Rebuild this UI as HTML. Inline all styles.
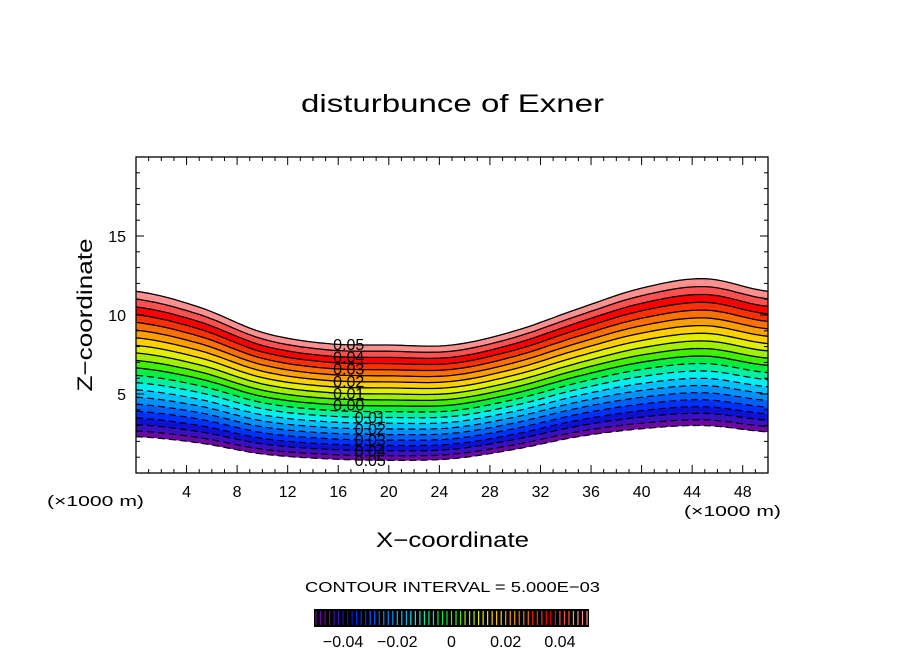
<!DOCTYPE html>
<html><head><meta charset="utf-8"><style>
body{margin:0;background:#fff}
svg{display:block;font-family:"Liberation Sans",sans-serif}
</style></head><body>
<svg id="c" width="904" height="654" viewBox="0 0 904 654">
<text x="301" y="112" font-size="25" textLength="303" lengthAdjust="spacingAndGlyphs">disturbunce of Exner</text>
<g id="plot"></g>
<g id="axes"></g>
<text x="47" y="506" font-size="15" textLength="97" lengthAdjust="spacingAndGlyphs">(×1000 m)</text>
<text x="684" y="516" font-size="15" textLength="97" lengthAdjust="spacingAndGlyphs">(×1000 m)</text>
<text x="376" y="547" font-size="21" textLength="153" lengthAdjust="spacingAndGlyphs">X−coordinate</text>
<text x="92" y="315" font-size="21" text-anchor="middle" textLength="153" lengthAdjust="spacingAndGlyphs" transform="rotate(-90 92 315)">Z−coordinate</text>
<text x="305" y="592" font-size="15" textLength="295" lengthAdjust="spacingAndGlyphs">CONTOUR INTERVAL = 5.000E−03</text>
<g id="cbar"></g>
</svg>
<script>
const xKnots=[0,5,10,15,20,25,30,35,40,45,50];
const topH=[11.5,10.5,8.9,8.2,8.1,8.1,9.0,10.4,11.7,12.3,11.5];
const botH=[2.3,1.9,1.2,0.9,0.8,0.9,1.5,2.3,2.8,3.0,2.6];
const levels=[];for(let i=0;i<=20;i++)levels.push(+(-0.05+i*0.005).toFixed(3));
const bandColors=["#6a0aa0","#3a10c0","#1010d0","#0030ff","#0060ff","#0090ff","#00c0ff","#00f0f0","#00f0a0","#00f040","#40f000","#a0f000","#e0f000","#ffd000","#ffa000","#ff7000","#ff3000","#ff0000","#ff5050","#ff9090"];
const xTicks=[4,8,12,16,20,24,28,32,36,40,44,48];
const yTicks=[5,10,15];
const cbTicks=[-0.04,-0.02,0,0.02,0.04];
const cbLabels=["−0.04","−0.02","0","0.02","0.04"];
const X0=136,X1=768,Y0=473,Y1=157;
const sx=v=>X0+(v/50)*(X1-X0);
const sy=v=>Y0-(v/20)*(Y0-Y1);
const NS="http://www.w3.org/2000/svg";
function mk(t,a,p){const e=document.createElementNS(NS,t);for(const k in a)e.setAttribute(k,a[k]);p.appendChild(e);return e;}
function interp(arr,x){let i=Math.min(Math.floor(x/5),9);const t=(x-xKnots[i])/5;
 const p0=arr[Math.max(i-1,0)],p1=arr[i],p2=arr[i+1],p3=arr[Math.min(i+2,10)];
 return 0.5*((2*p1)+(-p0+p2)*t+(2*p0-5*p1+4*p2-p3)*t*t+(-p0+3*p1-3*p2+p3)*t*t*t);}
function levH(k,x){const b=interp(botH,x),t=interp(topH,x);const f=Math.pow(k/20,1.08);return b+(t-b)*f;}
const plot=document.getElementById('plot');
const xs=[];for(let x=0;x<=50.001;x+=0.5)xs.push(x);
function linePts(k){return xs.map(x=>sx(x).toFixed(1)+","+sy(levH(k,x)).toFixed(1));}
for(let k=0;k<20;k++){
 const a=linePts(k),b=linePts(k+1).reverse();
 const p=mk('polygon',{points:a.concat(b).join(' '),fill:bandColors[k],stroke:bandColors[k],'stroke-width':0.5},plot);
 
 
}
for(let k=0;k<=20;k++){
 const l=mk('polyline',{points:linePts(k).join(' '),fill:'none',stroke:'#000','stroke-width':k>=10?1.3:1.2},plot);
 if(levels[k]<0)l.setAttribute('stroke-dasharray','7,4');
 
 
}
for(let k=0;k<=20;k+=2){
 const v=levels[k];const lx=v>=0?15.6:17.3;
 const t=mk('text',{x:sx(lx),y:sy(levH(k,lx))+6,'font-size':16},plot);
 t.textContent=Math.abs(v).toFixed(2);
 
 
}
const ax=document.getElementById('axes');
const fr=mk('rect',{x:X0,y:Y1,width:X1-X0,height:Y0-Y1,fill:'none',stroke:'#000','stroke-width':1.3},ax);

for(let v=1;v<50;v++){const L=v%4==0?8:4;
 mk('line',{x1:sx(v),x2:sx(v),y1:Y0,y2:Y0-L,stroke:'#000'},ax);
 mk('line',{x1:sx(v),x2:sx(v),y1:Y1,y2:Y1+L,stroke:'#000'},ax);}
for(let v=1;v<20;v++){const L=v%5==0?8:4;
 mk('line',{x1:X0,x2:X0+L,y1:sy(v),y2:sy(v),stroke:'#000'},ax);
 mk('line',{x1:X1,x2:X1-L,y1:sy(v),y2:sy(v),stroke:'#000'},ax);}
xTicks.forEach(v=>{const t=mk('text',{x:sx(v),y:Y0+24,'font-size':16,'text-anchor':'middle'},ax);t.textContent=v;
 });
yTicks.forEach(v=>{const t=mk('text',{x:X0-10,y:sy(v)+6,'font-size':16,'text-anchor':'end'},ax);t.textContent=v;
 });
const cb=document.getElementById('cbar');
const CB0=316,CB1=587,cbx=v=>CB0+(v+0.05)/0.1*(CB1-CB0);
mk('rect',{x:CB0-2,y:609,width:CB1-CB0+4,height:18,fill:'#000'},cb);
for(let i=0;i<=60;i++){const v=-0.05+i*(0.1/60);const k=Math.min(19,Math.floor((v+0.05)/0.005));
 mk('line',{x1:cbx(v),x2:cbx(v),y1:611,y2:625,stroke:bandColors[k],'stroke-width':1.2},cb);}
cbTicks.forEach((v,i)=>{const t=mk('text',{x:cbx(v),y:647,'font-size':16,'text-anchor':'middle'},cb);t.textContent=cbLabels[i];
 });
</script>
</body></html>
